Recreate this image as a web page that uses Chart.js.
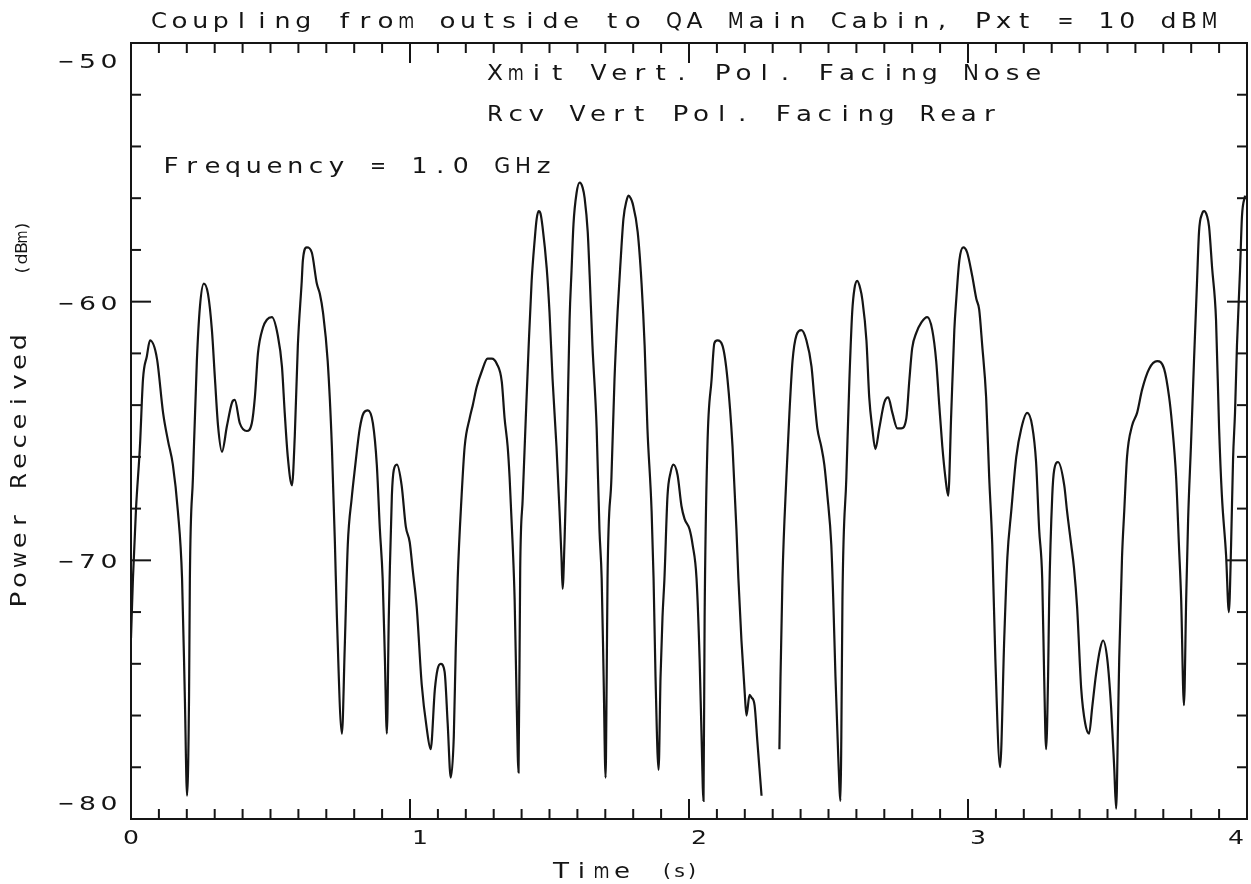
<!DOCTYPE html>
<html>
<head>
<meta charset="utf-8">
<title>Coupling from outside to QA Main Cabin</title>
<script src="https://cdn.jsdelivr.net/npm/chart.js@4.4.1/dist/chart.umd.min.js"></script>
<style>
  html, body { margin: 0; padding: 0; background: #ffffff; }
  canvas { display: block; }
</style>
</head>
<body>
<canvas id="plot" width="1251" height="884"></canvas>
<script>
// Received power trace, 1.0 GHz, sampled along the time axis (s, dBm).
const timeS = [
  0.000, 0.007, 0.018, 0.032, 0.043, 0.057, 0.068, 0.093, 0.115, 0.133,
  0.150, 0.168, 0.183, 0.193, 0.201, 0.208, 0.211, 0.222, 0.236, 0.247,
  0.261, 0.276, 0.290, 0.301, 0.312, 0.326, 0.344, 0.362, 0.372, 0.390,
  0.415, 0.433, 0.444, 0.455, 0.473, 0.487, 0.505, 0.526, 0.541, 0.551,
  0.562, 0.577, 0.587, 0.598, 0.612, 0.616, 0.630, 0.648, 0.666, 0.677,
  0.688, 0.705, 0.720, 0.731, 0.738, 0.756, 0.766, 0.777, 0.791, 0.802,
  0.820, 0.834, 0.849, 0.867, 0.881, 0.892, 0.902, 0.910, 0.917, 0.924,
  0.927, 0.935, 0.942, 0.953, 0.970, 0.985, 0.999, 1.010, 1.024, 1.042,
  1.060, 1.074, 1.089, 1.099, 1.110, 1.124, 1.135, 1.146, 1.157, 1.164,
  1.171, 1.185, 1.196, 1.214, 1.225, 1.239, 1.257, 1.278, 1.293, 1.311,
  1.329, 1.339, 1.350, 1.357, 1.368, 1.375, 1.382, 1.389, 1.395, 1.404,
  1.415, 1.425, 1.436, 1.447, 1.454, 1.461, 1.468, 1.475, 1.490, 1.500,
  1.511, 1.525, 1.536, 1.543, 1.547, 1.554, 1.561, 1.565, 1.572, 1.579,
  1.586, 1.597, 1.608, 1.619, 1.626, 1.637, 1.644, 1.654, 1.669, 1.679,
  1.687, 1.694, 1.701, 1.705, 1.708, 1.722, 1.733, 1.744, 1.755, 1.765,
  1.776, 1.783, 1.791, 1.798, 1.816, 1.830, 1.841, 1.851, 1.866, 1.873,
  1.880, 1.891, 1.898, 1.905, 1.912, 1.923, 1.934, 1.944, 1.959, 1.973,
  1.984, 2.002, 2.013, 2.027, 2.038, 2.045, 2.052, 2.056, 2.066, 2.081,
  2.091, 2.102, 2.120, 2.138, 2.156, 2.170, 2.177, 2.188, 2.199, 2.206,
  2.217, 2.224, 2.235, 2.245, 2.260, 2.290, 2.324, 2.328, 2.335, 2.349,
  2.360, 2.371, 2.385, 2.403, 2.421, 2.439, 2.449, 2.460, 2.474, 2.485,
  2.496, 2.510, 2.517, 2.525, 2.535, 2.543, 2.546, 2.550, 2.564, 2.575,
  2.585, 2.593, 2.603, 2.614, 2.621, 2.636, 2.646, 2.657, 2.668, 2.682,
  2.700, 2.714, 2.729, 2.747, 2.761, 2.779, 2.790, 2.800, 2.815, 2.833,
  2.854, 2.872, 2.886, 2.897, 2.908, 2.919, 2.929, 2.940, 2.951, 2.958,
  2.969, 2.983, 2.997, 3.015, 3.030, 3.040, 3.051, 3.065, 3.076, 3.087,
  3.098, 3.115, 3.130, 3.141, 3.155, 3.173, 3.191, 3.212, 3.230, 3.244,
  3.255, 3.266, 3.273, 3.280, 3.287, 3.291, 3.302, 3.309, 3.323, 3.345,
  3.355, 3.370, 3.380, 3.391, 3.406, 3.420, 3.434, 3.445, 3.459, 3.474,
  3.484, 3.499, 3.513, 3.524, 3.531, 3.538, 3.542, 3.552, 3.560, 3.570,
  3.588, 3.606, 3.624, 3.649, 3.678, 3.703, 3.721, 3.731, 3.746, 3.756,
  3.764, 3.774, 3.782, 3.789, 3.799, 3.810, 3.821, 3.828, 3.839, 3.846,
  3.857, 3.864, 3.875, 3.889, 3.900, 3.910, 3.925, 3.935, 3.943, 3.950,
  3.957, 3.964, 3.975, 3.982, 3.993
];

// null marks the short dropout in the recording around 2.29 s
const powerDbm = [
  -73.0, -70.7, -68.0, -65.6, -63.0, -62.1, -61.5, -62.2, -64.3, -65.4,
  -66.3, -68.1, -70.7, -75.3, -79.1, -75.3, -70.7, -66.8, -62.3, -60.2,
  -59.3, -59.7, -61.1, -63.0, -64.8, -65.8, -64.8, -63.9, -63.8, -64.7,
  -65.0, -64.7, -63.7, -62.0, -61.0, -60.7, -60.6, -61.3, -62.5, -64.3,
  -66.0, -67.1, -65.2, -61.7, -59.2, -58.4, -57.9, -58.1, -59.3, -59.7,
  -60.4, -62.3, -65.6, -69.4, -72.2, -76.7, -73.4, -69.4, -67.6, -66.5,
  -64.9, -64.3, -64.2, -64.7, -66.3, -68.8, -70.7, -73.8, -76.7, -72.2,
  -70.7, -67.5, -66.5, -66.3, -67.1, -68.7, -69.3, -70.4, -71.8, -74.8,
  -76.5, -77.3, -75.0, -74.2, -74.0, -74.3, -76.3, -78.4, -76.8, -73.4,
  -70.7, -67.5, -65.6, -64.5, -64.0, -63.3, -62.7, -62.2, -62.2, -62.4,
  -63.1, -64.5, -65.6, -66.8, -69.4, -71.5, -75.3, -78.2, -70.3, -67.6,
  -64.5, -61.8, -59.2, -57.6, -56.8, -56.5, -56.6, -57.1, -58.7, -60.4,
  -63.0, -65.6, -68.1, -69.9, -71.1, -69.2, -66.5, -64.3, -60.7, -58.8,
  -57.0, -55.8, -55.4, -55.6, -56.0, -57.3, -59.0, -61.7, -64.9, -68.8,
  -70.7, -74.5, -78.4, -74.5, -70.7, -66.8, -63.0, -60.4, -58.4, -56.8,
  -56.1, -55.9, -56.0, -56.2, -57.3, -59.3, -61.7, -64.9, -68.1, -70.7,
  -74.5, -78.1, -74.5, -72.2, -70.7, -67.5, -66.6, -66.3, -66.7, -67.9,
  -68.4, -68.8, -69.4, -70.7, -73.8, -76.8, -79.3, -72.2, -65.6, -63.0,
  -61.6, -61.5, -61.7, -63.0, -65.6, -68.8, -70.7, -73.1, -75.0, -76.0,
  -75.2, -75.3, -75.6, -77.0, -79.1, null, -77.3, -74.5, -70.7, -66.8,
  -64.3, -62.3, -61.3, -61.1, -61.5, -62.5, -63.7, -64.9, -65.6, -66.3,
  -67.5, -69.4, -71.5, -74.5, -77.6, -79.3, -76.8, -71.5, -66.8, -63.0,
  -60.4, -59.5, -59.2, -59.5, -59.9, -61.5, -63.7, -64.9, -65.7, -64.9,
  -63.9, -63.7, -64.3, -64.9, -64.9, -64.5, -63.0, -61.8, -61.2, -60.8,
  -60.6, -61.1, -62.3, -64.0, -65.6, -66.8, -67.5, -64.3, -61.1, -59.9,
  -58.4, -57.9, -58.1, -59.0, -59.9, -60.3, -61.7, -63.7, -66.8, -69.4,
  -73.8, -78.0, -73.0, -69.9, -68.1, -66.0, -64.9, -64.3, -64.8, -66.2,
  -68.8, -70.7, -74.5, -77.3, -74.5, -71.5, -67.5, -66.5, -66.2, -67.1,
  -68.1, -69.4, -70.3, -71.8, -75.0, -76.3, -76.7, -75.7, -74.4, -73.4,
  -73.1, -73.8, -75.7, -78.0, -79.6, -76.1, -73.8, -69.9, -68.1, -66.0,
  -64.8, -64.3, -63.4, -62.6, -62.3, -62.6, -63.7, -64.7, -66.8, -69.4,
  -71.5, -75.6, -71.5, -68.4, -65.6, -62.3, -59.2, -57.3, -56.6, -56.5,
  -56.7, -57.1, -58.7, -60.7, -64.9, -67.5, -69.8, -72.0, -69.4, -66.1,
  -64.3, -61.7, -58.8, -56.7, -55.9
];

const xTickLabels = [0, 1, 2, 3, 4];
const yTickLabels = [-50, -60, -70, -80];
const chartTitle = 'Coupling from outside to QA Main Cabin, Pxt = 10 dBM';
const noteLines = ['Xmit Vert. Pol. Facing Nose', 'Rcv Vert Pol. Facing Rear'];
const frequencyNote = 'Frequency = 1.0 GHz';
const xAxisTitle = 'Time';
const xAxisUnit = '(s)';
const yAxisTitle = 'Power Received';
const yAxisUnit = '(dBm)';

const INK = '#151515';
const FONT = '"DejaVu Sans", "Liberation Sans", sans-serif';

// Fixed-pitch text with slightly widened glyphs, the way a pen plotter
// lays out characters. Wide letters are squeezed back into their cell.
function pitchedText(ctx, text, firstCenter, baseline, pitch, stretch = 1.25, maxW = 16) {
  for (let i = 0; i < text.length; i++) {
    let ch = text[i];
    if (ch === ' ') continue;
    if (ch === '-') ch = '\u2212';
    const w = ctx.measureText(ch).width;
    const sx = Math.min(stretch, maxW / Math.max(w, 1));
    ctx.save();
    ctx.translate(firstCenter + i * pitch, baseline);
    ctx.scale(sx, 1);
    ctx.fillText(ch, 0, 0);
    ctx.restore();
  }
}

function seg(ctx, x1, y1, x2, y2) {
  ctx.beginPath();
  ctx.moveTo(x1, y1);
  ctx.lineTo(x2, y2);
  ctx.stroke();
}

// Frame with inward ticks on all four sides, tick labels and captions.
const plotterFrame = {
  id: 'plotterFrame',
  afterDraw(chart) {
    const { ctx, chartArea: a, scales: { x, y } } = chart;
    ctx.save();
    ctx.strokeStyle = INK;
    ctx.lineWidth = 2;
    ctx.lineCap = 'butt';
    ctx.strokeRect(a.left, a.top, a.right - a.left, a.bottom - a.top);

    for (let i = 0; i <= 40; i++) {
      const px = x.getPixelForValue(i / 10);
      const len = i % 10 === 0 ? 20 : 10;
      seg(ctx, px, a.bottom, px, a.bottom - len);
      seg(ctx, px, a.top, px, a.top + len);
    }
    for (let v = -80; v <= -50; v += 2) {
      const py = y.getPixelForValue(v);
      const len = v % 10 === 0 ? 20 : 10;
      seg(ctx, a.left, py, a.left + len, py);
      seg(ctx, a.right, py, a.right - len, py);
    }

    ctx.fillStyle = INK;
    ctx.textBaseline = 'alphabetic';
    ctx.textAlign = 'center';

    // x tick labels (end labels pulled inside the frame)
    ctx.font = '20px ' + FONT;
    xTickLabels.forEach((v) => {
      let px = x.getPixelForValue(v);
      if (v === x.max) px -= 11; else if (v !== x.min) px += 10;
      pitchedText(ctx, String(v), px, a.bottom + 25, 0, 1.35, 16);
    });

    // y tick labels, right aligned against the axis
    yTickLabels.forEach((v) => {
      let py = y.getPixelForValue(v) + 8;
      if (v === y.max) py += 17;
      if (v === y.min) py -= 17;
      const txt = String(v);
      const pitch = 21.5;
      const last = a.left - 22;
      pitchedText(ctx, txt, last - (txt.length - 1) * pitch, py, pitch, 1.35, 17);
    });

    // title
    ctx.font = '21px ' + FONT;
    pitchedText(ctx, chartTitle, 159, 28, 20.6);

    // notes inside the plot
    pitchedText(ctx, noteLines[0], 495, 80, 20.7);
    pitchedText(ctx, noteLines[1], 495, 121, 20.6);
    pitchedText(ctx, frequencyNote, 171, 173, 20.7);

    // x axis caption
    pitchedText(ctx, xAxisTitle, 561, 878, 20.3);
    ctx.font = '17px ' + FONT;
    pitchedText(ctx, xAxisUnit, 667, 877, 12.5, 1.2, 13);

    // y axis caption, reading upward
    ctx.save();
    ctx.translate(19, 471);
    ctx.rotate(-Math.PI / 2);
    ctx.font = '21px ' + FONT;
    const pitchY = 19.8;
    pitchedText(ctx, yAxisTitle, -((yAxisTitle.length - 1) * pitchY) / 2, 7, pitchY);
    ctx.restore();

    ctx.save();
    ctx.translate(21, 248);
    ctx.rotate(-Math.PI / 2);
    ctx.font = '16px ' + FONT;
    const pitchU = 11;
    pitchedText(ctx, yAxisUnit, -((yAxisUnit.length - 1) * pitchU) / 2, 6, pitchU, 1.1, 13);
    ctx.restore();

    ctx.restore();
  }
};

const points = timeS.map((t, i) => ({ x: t, y: powerDbm[i] }));

new Chart(document.getElementById('plot'), {
  type: 'line',
  data: {
    datasets: [{
      data: points,
      borderColor: INK,
      borderWidth: 2.2,
      pointRadius: 0,
      fill: false,
      spanGaps: false,
      cubicInterpolationMode: 'monotone'
    }]
  },
  options: {
    responsive: false,
    animation: false,
    devicePixelRatio: 1,
    layout: { padding: { left: 131, right: 4, top: 43, bottom: 65 } },
    scales: {
      x: { type: 'linear', min: 0, max: 4, display: false },
      y: { type: 'linear', min: -80, max: -50, display: false }
    },
    plugins: {
      legend: { display: false },
      tooltip: { enabled: false },
      title: { display: false }
    }
  },
  plugins: [plotterFrame]
});
</script>
</body>
</html>
